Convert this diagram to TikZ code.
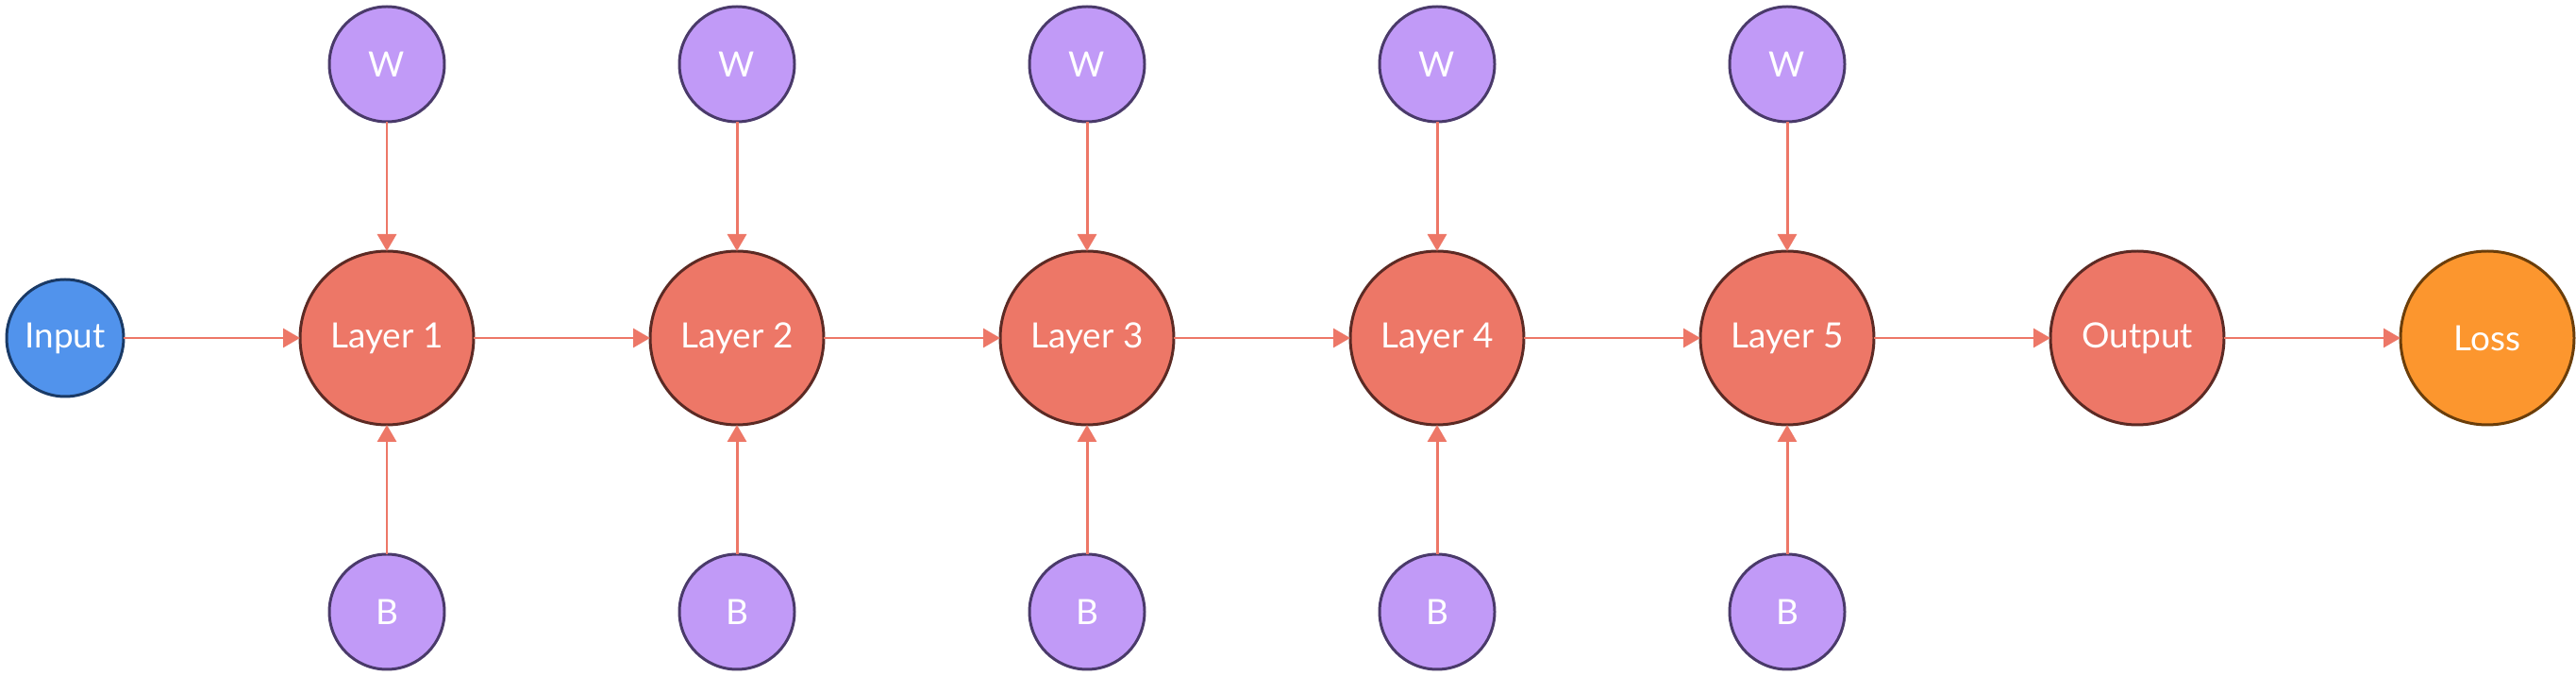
\documentclass[tikz,border=0pt]{standalone}
\usepackage{fontspec}
\setmainfont{Lato}
\usepackage{tikz}
\usetikzlibrary{positioning,arrows.meta}

\definecolor{layerfill}{RGB}{237,119,103}
\definecolor{layerdraw}{RGB}{92,42,36}
\definecolor{inputfill}{RGB}{81,147,236}
\definecolor{inputdraw}{RGB}{26,58,102}
\definecolor{paramfill}{RGB}{193,154,247}
\definecolor{paramdraw}{RGB}{74,58,106}
\definecolor{lossfill}{RGB}{252,150,46}
\definecolor{lossdraw}{RGB}{107,62,10}

\begin{document}
\begin{tikzpicture}
[node distance=1.37cm and 1.87cm,
every node/.style={circle,inner sep=0pt,outer sep=0pt,line width=0.85pt,text=white,font=\fontsize{10.5}{12}\selectfont},
layer/.style={minimum size=1.84cm,fill=layerfill,draw=layerdraw},
inp/.style={minimum size=1.24cm,fill=inputfill,draw=inputdraw},
param/.style={minimum size=1.22cm,fill=paramfill,draw=paramdraw},
loss/.style={minimum size=1.84cm,fill=lossfill,draw=lossdraw},
conn/.style={draw=layerfill,line width=0.85pt,-{Triangle[length=0.18cm,width=0.2cm]}}]

\useasboundingbox (0,-3.58) rectangle (27.3,3.58);

\node[inp] (in) at (0.69,0) {Input};
\node[layer, right=of in] (l1) {Layer 1};
\node[layer, right=of l1] (l2) {Layer 2};
\node[layer, right=of l2] (l3) {Layer 3};
\node[layer, right=of l3] (l4) {Layer 4};
\node[layer, right=of l4] (l5) {Layer 5};
\node[layer, right=of l5] (out) {Output};
\node[loss, right=of out] (loss) {Loss};

% weights
\node[param, above=of l1] (w1) {W};
\node[param, above=of l2] (w2) {W};
\node[param, above=of l3] (w3) {W};
\node[param, above=of l4] (w4) {W};
\node[param, above=of l5] (w5) {W};

% biases
\node[param, below=of l1] (b1) {B};
\node[param, below=of l2] (b2) {B};
\node[param, below=of l3] (b3) {B};
\node[param, below=of l4] (b4) {B};
\node[param, below=of l5] (b5) {B};

\draw[conn] (in) -- (l1);
\draw[conn] (l1) -- (l2);
\draw[conn] (l2) -- (l3);
\draw[conn] (l3) -- (l4);
\draw[conn] (l4) -- (l5);
\draw[conn] (l5) -- (out);
\draw[conn] (out) -- (loss);

\draw[conn] (w1) -- (l1);
\draw[conn] (w2) -- (l2);
\draw[conn] (w3) -- (l3);
\draw[conn] (w4) -- (l4);
\draw[conn] (w5) -- (l5);

\draw[conn] (b1) -- (l1);
\draw[conn] (b2) -- (l2);
\draw[conn] (b3) -- (l3);
\draw[conn] (b4) -- (l4);
\draw[conn] (b5) -- (l5);
\end{tikzpicture}
\end{document}
